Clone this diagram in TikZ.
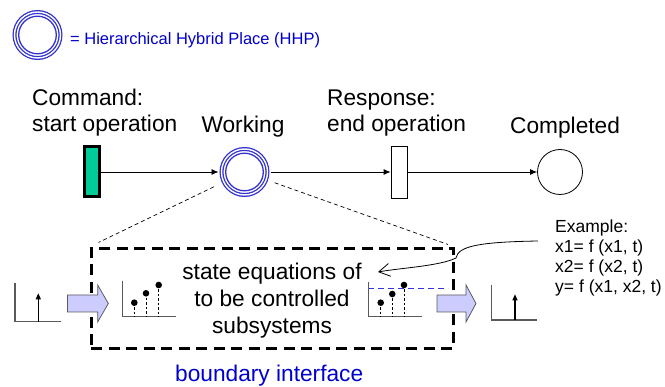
\documentclass[tikz,border=0pt]{standalone}
\usepackage{fontspec}
\setmainfont{Liberation Sans}
\usetikzlibrary{arrows.meta}
\definecolor{hhpblue}{RGB}{51,51,204}
\definecolor{textblue}{RGB}{0,0,204}
\definecolor{tokengreen}{RGB}{0,204,153}
\definecolor{arrowfill}{RGB}{204,204,255}
\definecolor{axisgray}{RGB}{90,90,90}
\begin{document}
\begin{tikzpicture}[x=1pt,y=-1pt]

\tikzset{hhp/.style={circle, draw=hhpblue, line width=1.3pt, double=white, double distance=1.4pt,
  minimum size=46pt, inner sep=0pt, outer sep=3pt,
  path picture={\draw [hhpblue,line width=1.3pt] (path picture bounding box.center) circle (18.8pt);}},
place/.style={circle, draw=black, line width=0.8pt, minimum size=45pt, inner sep=0pt},
cmdbar/.style={rectangle, draw=black, line width=3pt, fill=tokengreen, minimum width=15.3pt, minimum height=50pt, inner sep=0pt},
respbar/.style={rectangle, draw=black, line width=0.8pt, fill=white, minimum width=16pt, minimum height=52pt, inner sep=0pt},
arc/.style={-{Latex[length=7pt,width=6pt]}, line width=0.8pt},
toplabel/.style={font=\fontsize{22.7}{26.7}\selectfont, inner sep=0pt},
%small text for the example equations
eqlabel/.style={font=\fontsize{17.5}{20}\selectfont, inner sep=0pt},
linkdash/.style={black, line width=0.7pt, dash pattern=on 4pt off 3pt},
fatarrow/.style={draw=axisgray, line width=0.8pt, fill=arrowfill},
axis/.style={axisgray, line width=1.1pt}}

\useasboundingbox (0,0) rectangle (665,387);

% legend
\node [hhp] (hhpkey) at (37.5,35) {};
\node [font=\fontsize{16.5}{19}\selectfont, inner sep=0pt, text=textblue, anchor=base west] (hhplabel) at (70,45) {= Hierarchical Hybrid Place (HHP)};

% net
\node [cmdbar] (cmd) at (92,172) {};
\node [hhp] (work) at (244.5,172) {};
\node [respbar] (resp) at (399,172) {};
\node [place] (done) at (560,172) {};

\draw [arc] (cmd) -- (work);
\draw [arc] (work) -- (resp);
\draw [arc] (resp) -- (done);

\node [toplabel, align=left, anchor=base west] (cmdlabel) at (32,132) {Command:\\start operation};
\node [toplabel, anchor=base] (worklabel) at (243,133) {Working};
\node [toplabel, align=left, anchor=base west] (resplabel) at (327,132) {Response:\\end operation};
\node [toplabel, anchor=base west] (donelabel) at (510,134) {Completed};

% boundary interface
\node [draw=black, line width=3pt, dash pattern=on 11pt off 6.5pt, minimum width=362pt, minimum height=100pt, inner sep=0pt] (boundary) at (272,298.3) {};

\draw [linkdash, shorten <=8pt, shorten >=10pt] (work) -- (boundary.north west);
\draw [linkdash, shorten <=6pt, shorten >=7pt] (work) -- (boundary.north east);

\node [toplabel, align=center] (eqtext) at (272,300.6) {state equations of\\to be controlled\\subsystems};
\node [toplabel, text=textblue, anchor=base west] (boundlabel) at (175,382) {boundary interface};

% input signal
\draw [axis] (15,283.3) -- (15,321.7) -- (61,321.7);
\draw [axis, -{Triangle[length=6pt,width=5pt]}, black] (38.3,321.7) -- (38.3,293.3);

\draw [fatarrow] (67.5,295) -- (97.7,295) -- (97.7,285) -- (108.3,303.5) -- (97.7,322) -- (97.7,312) -- (67.5,312) -- cycle;

% sampled values
\draw [axis] (122.7,280.7) -- (122.7,316.7) -- (176,316.7);
\foreach \x/\y in {134.3/302.7, 146/293.3, 158.7/285}
{
\draw [black, line width=0.6pt, dash pattern=on 2.5pt off 2pt] (\x,\y) -- (\x,316.7);
\fill [black] (\x,\y) circle (3.3pt);
}

\draw [textblue!80!white, line width=1.2pt, dash pattern=on 6pt off 4pt] (368.3,288.3) -- (448.3,288.3);
\draw [axis] (368.3,281.7) -- (368.3,316.7) -- (422.3,316.7);
\foreach \x/\y in {380.7/302.7, 392.3/294, 404/285}
{
\draw [black, line width=0.6pt, dash pattern=on 2.5pt off 2pt] (\x,\y) -- (\x,316.7);
\fill [black] (\x,\y) circle (3.3pt);
}

\draw [fatarrow] (437,295) -- (466,295) -- (466,285) -- (476,303.5) -- (466,322) -- (466,312) -- (437,312) -- cycle;

% output signal
\draw [axis] (491.7,285) -- (491.7,320) -- (537.3,320);
\draw [axis, -{Triangle[length=6pt,width=5pt]}, black] (515,320) -- (515,294.3);

% example equations
\node [eqlabel, align=left, anchor=base west] (example) at (555,293) {Example:\\x1= f (x1, t)\\x2= f (x2, t)\\y= f (x1, x2, t)};

\coordinate (calloutfrom) at (538,241);
\coordinate (calloutto) at (378,272);
\draw [line width=0.8pt, -{Straight Barb[length=11pt,width=13pt]}] (calloutfrom) .. controls (480,242) and (458,246) .. (456,258) .. controls (440,266) and (400,268) .. (calloutto);

\end{tikzpicture}
\end{document}
